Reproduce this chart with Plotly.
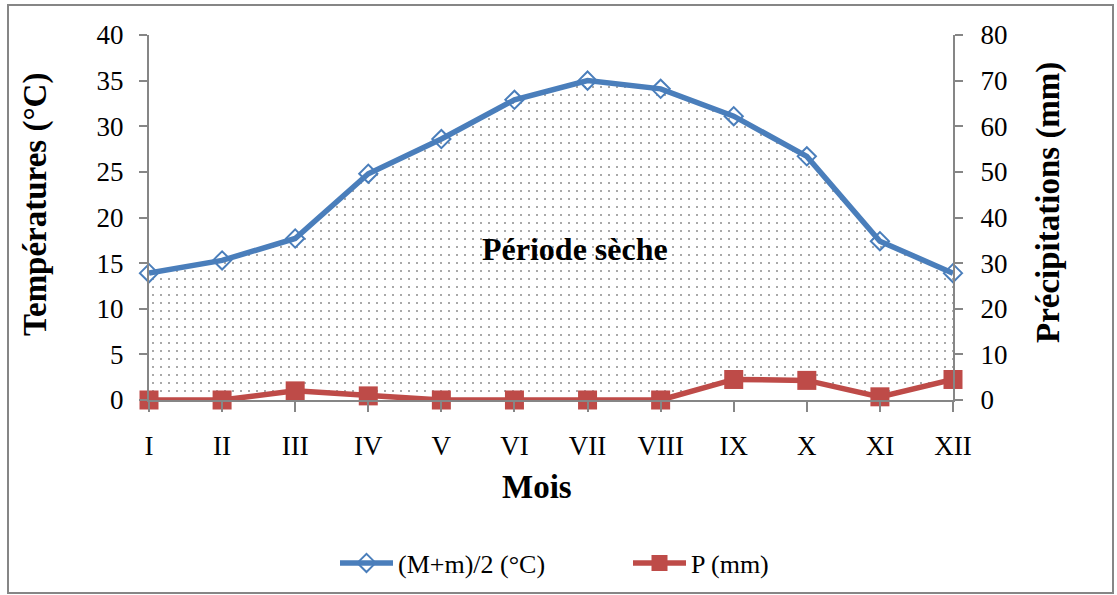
import plotly.graph_objects as go

months = ["I", "II", "III", "IV", "V", "VI", "VII", "VIII", "IX", "X", "XI", "XII"]
temp_mean = [13.9, 15.3, 17.7, 24.8, 28.6, 32.9, 35.0, 34.1, 31.1, 26.7, 17.4, 13.9]
precip = [0.0, 0.0, 2.0, 0.9, 0.0, 0.0, 0.0, 0.0, 4.5, 4.3, 0.7, 4.5]

W, H = 1117, 595
L, R, T, B = 149, 953, 35, 400
serif = "Liberation Serif"
blue = "#4A7EBB"
red = "#BE4B48"
axis_col = "#868686"

x = list(range(len(months)))
# dry period: area between P (scaled to the T axis, P = 2T) and T
dry_base = [p / 2 for p in precip]

fig = go.Figure()
fig.add_trace(go.Scatter(x=x, y=dry_base, mode="lines",
                         line=dict(width=0, color="rgba(0,0,0,0)"),
                         showlegend=False, hoverinfo="skip"))
fig.add_trace(go.Scatter(x=x, y=temp_mean, mode="lines",
                         line=dict(width=0, color="rgba(0,0,0,0)"),
                         fill="tonexty", fillcolor="rgba(0,0,0,0)",
                         fillpattern=dict(shape=".", fgcolor="#1a1a1a", bgcolor="white",
                                          size=8, solidity=0.05),
                         showlegend=False, hoverinfo="skip"))
fig.add_trace(go.Scatter(x=x, y=temp_mean, name="(M+m)/2 (°C)", mode="lines+markers",
                         line=dict(color=blue, width=5.5),
                         marker=dict(symbol="diamond-open", size=14, color=blue,
                                     line=dict(width=2, color=blue)),
                         cliponaxis=False))
fig.add_trace(go.Scatter(x=x, y=precip, name="P (mm)", yaxis="y2", mode="lines+markers",
                         line=dict(color=red, width=5.5),
                         marker=dict(symbol="square", size=19, color=red),
                         cliponaxis=False))

tick_font = dict(family=serif, size=27, color="black")
fig.update_layout(
    width=W, height=H,
    margin=dict(l=L, r=W - R, t=T, b=H - B, autoexpand=False),
    paper_bgcolor="white", plot_bgcolor="white",
    font=dict(family=serif, size=27, color="black"),
    xaxis=dict(range=[0, 11], tickmode="array", tickvals=x, ticktext=months,
               showgrid=False, zeroline=False, showline=True, linecolor=axis_col,
               linewidth=2, ticks="outside", ticklen=10, tickcolor=axis_col, tickwidth=2,
               tickfont=tick_font, ticklabelstandoff=11),
    yaxis=dict(range=[0, 40], dtick=5, showgrid=False, zeroline=False, showline=True,
               linecolor=axis_col, linewidth=2, ticks="outside", ticklen=8,
               tickcolor=axis_col, tickwidth=2, tickfont=tick_font, ticklabelstandoff=10),
    yaxis2=dict(range=[0, 80], dtick=10, overlaying="y", side="right", showgrid=False,
                zeroline=False, showline=True, linecolor=axis_col, linewidth=2,
                ticks="outside", ticklen=8, tickcolor=axis_col, tickwidth=2,
                tickfont=tick_font, ticklabelstandoff=12),
    legend=dict(orientation="h", traceorder="normal", x=(335 - L) / (R - L), xanchor="left",
                y=(B - 563) / (B - T), yanchor="middle",
                font=dict(family=serif, size=26), itemwidth=53, entrywidth=225,
                bgcolor="rgba(0,0,0,0)"),
    showlegend=True,
)

pw = R - L
ph = B - T
title_font = dict(family=serif, size=33, color="black")
fig.add_annotation(text="<b>Températures (°C)</b>", xref="paper", yref="paper",
                   x=(35 - L) / pw, y=(B - 205) / ph, textangle=-90, showarrow=False,
                   xanchor="center", yanchor="middle", font=title_font)
fig.add_annotation(text="<b>Précipitations (mm)</b>", xref="paper", yref="paper",
                   x=(1048 - L) / pw, y=(B - 203) / ph, textangle=-90, showarrow=False,
                   xanchor="center", yanchor="middle", font=title_font)
fig.add_annotation(text="<b>Mois</b>", xref="paper", yref="paper",
                   x=(537 - L) / pw, y=(B - 487) / ph, showarrow=False,
                   xanchor="center", yanchor="middle", font=title_font)
fig.add_annotation(text="<b>Période sèche</b>", x=5.83, y=16.5, xref="x", yref="y",
                   showarrow=False, xanchor="center", yanchor="middle",
                   font=dict(family=serif, size=32, color="black"))

fig.add_shape(type="rect", xref="paper", yref="paper",
              x0=(8 - L) / pw, x1=(1113 - L) / pw, y0=(B - 593) / ph, y1=(B - 5) / ph,
              line=dict(color=axis_col, width=2), fillcolor="rgba(0,0,0,0)", layer="below")

fig.write_html("out.html")
